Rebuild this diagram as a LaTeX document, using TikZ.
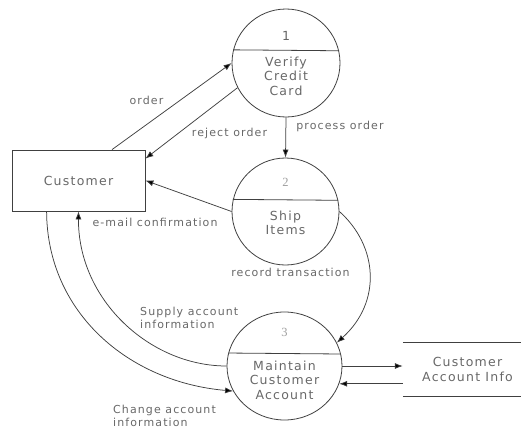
\documentclass[tikz,border=0pt]{standalone}
\usepackage{fontspec}
\setmainfont{DejaVu Sans}[LetterSpace=10]
\newfontfamily\numfont{Liberation Serif}
\usetikzlibrary{arrows.meta,calc,shapes.geometric}
\definecolor{linegray}{HTML}{404040}
\definecolor{textgray}{HTML}{686868}
\definecolor{numgray}{HTML}{A0A0A0}
\begin{document}
\begin{tikzpicture}[x=1pt,y=-1pt,
  proc/.style={circle,draw=linegray,line width=0.8pt,inner sep=0pt,minimum size=#1},
  entity/.style={rectangle,draw=linegray,line width=0.8pt,minimum width=133pt,minimum height=61pt,inner sep=0pt},
  store/.style={rectangle,minimum width=129pt,minimum height=53pt,inner sep=0pt},
  divider/.style={draw=linegray,line width=0.8pt},
  ptext/.style={text=textgray,font=\fontsize{12.5}{14.5}\selectfont,align=center,inner sep=0pt},
  num/.style={inner sep=0pt,font=\fontsize{12.5}{14}\selectfont},
  flowlabel/.style={text=textgray,font=\fontsize{11}{13}\selectfont,inner sep=0pt},
  flow/.style={draw=linegray,line width=0.75pt,-{Latex[length=8pt,width=6pt,fill=black]}},
]
\useasboundingbox (0,0) rectangle (521,428);

% processes
\node[proc=108pt] (c1) at (286,63) {};
\node[proc=107pt] (c2) at (285.5,211.5) {};
\node[ellipse,draw=linegray,line width=0.8pt,inner sep=0pt,
      minimum width=115pt,minimum height=108pt] (c3) at (284.5,366) {};
\draw[divider] (c1.166.1) -- (c1.13.9);
\draw[divider] (c2.167.6) -- (c2.12.4);
\draw[divider] (c3.167.9) -- (c3.12.1);

\node[num,text=linegray!80] (n1) at ($(c1)+(0,-27)$) {1};
\node[ptext] (t1) at ($(c1)+(0,13)$) {Verify\\Credit\\Card};
\node[num,text=numgray] (n2) at ($(c2)+(0,-29.5)$) {\numfont 2};
\node[ptext] (t2) at ($(c2)+(0,11.5)$) {Ship\\Items};
\node[num,text=numgray] (n3) at ($(c3)+(0,-34)$) {\numfont 3};
\node[ptext] (t3) at ($(c3)+(0,14)$) {Maintain\\Customer\\Account};

% external entity
\node[entity] (cust) at (78.5,180.5) {};
\node[ptext] (tc) at (cust) {Customer};

% data store
\node[store] (acct) at (467.5,369.5) {};
\draw[divider] (acct.north west) -- (acct.north east);
\draw[divider] (acct.south west) -- (acct.south east);
\node[ptext] (ta) at (acct) {Customer\\Account Info};

% data flows
\draw[flow] ($(cust.north)+(33.5,0)$) -- (c1.west);
\draw[flow] (c1.207) -- ($(cust.north east)+(0,9)$);
\draw[flow] (c1.south) -- (c2.north);
\draw[flow] (c2.west) -- (cust.east);
\draw[flow] (c2.east) .. controls (378,246) and (382,302) .. (c3.24);
\draw[flow] (c3.west) .. controls (150,366) and (78,300) .. (cust.south);
\draw[flow] ($(cust.south west)+(35,0)$) .. controls (47,312) and (128,382) .. (c3.206);
\draw[flow] (c3.east) -- (c3.east -| acct.west);
\draw[flow] (c3.-18.4 -| acct.west) -- (c3.-18.4);

% flow labels
\node[flowlabel] (l1) at (146.5,100) {order};
\node[flowlabel] (l2) at (229.5,133) {reject order};
\node[flowlabel] (l3) at (340,126) {process order};
\node[flowlabel] (l4) at (155,222) {e-mail confirmation};
\node[flowlabel] (l5) at (290.5,272) {record transaction};
\node[flowlabel,align=left,anchor=west] (l6) at (140,317.5) {Supply account\\information};
\node[flowlabel,align=left,anchor=west] (l7) at (113,415.5) {Change account\\information};
\end{tikzpicture}
\end{document}
